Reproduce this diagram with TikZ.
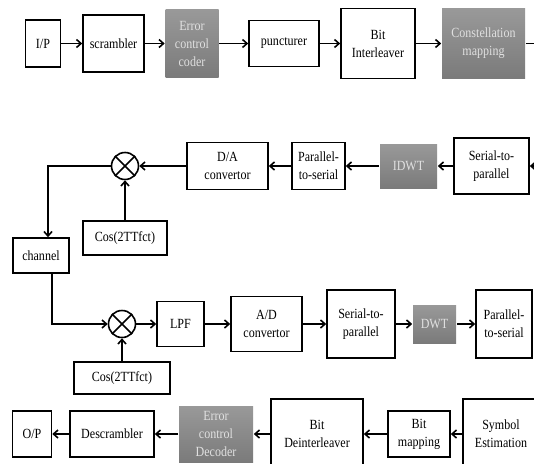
\documentclass[tikz,border=0pt]{standalone}
\usepackage{fontspec}
\setmainfont{Liberation Serif}[FakeStretch=0.86]
\usetikzlibrary{arrows.meta}

\tikzset{
  blk/.style={draw, line width=1.6pt, fill=white, align=center, inner sep=1pt,
    font=\fontsize{14}{18}\selectfont},
  gblk/.style={blk, draw=none, top color=black!40, bottom color=black!52,
    text=white!88!black},
  wh/.style 2 args={minimum width=#1pt, minimum height=#2pt},
  mix/.style={draw, circle, line width=1.6pt, minimum size=27pt, inner sep=0pt},
  arr/.style={line width=1.6pt, -{Straight Barb[length=4.5pt,width=8pt]}},
}

\begin{document}
\begin{tikzpicture}[x=1pt, y=-1pt]
      \useasboundingbox (0,0) rectangle (534,463);
      \clip (0,0) rectangle (534,463);

      % transmitter, first row
      \node[blk, wh={35}{47}] (ip) at (43,43.5) {I/P};
      \node[blk, wh={61}{57}] (scr) at (113.5,43.5) {scrambler};
      \node[gblk, wh={53}{68}] (ecc) at (192,43.5) {Error\\control\\coder};
      \node[blk, wh={70}{46}] (punc) at (284,43.5) {puncturer};
      \node[blk, wh={74}{70}] (bint) at (378,43.5) {Bit\\Interleaver};
      \node[gblk, wh={83}{70}] (cmap) at (483.5,43.5) {Constellation\\mapping};
      \coordinate (out1) at (548,43.5);

      \draw[arr] (ip) -- (scr);
      \draw[arr] (scr) -- (ecc);
      \draw[arr] (ecc) -- (punc);
      \draw[arr] (punc) -- (bint);
      \draw[arr] (bint) -- (cmap);
      \draw[arr] (cmap) -- (out1);

      % transmitter, second row (right to left)
      \coordinate (in2) at (548,166);
      \node[blk, wh={75}{56}] (sp1) at (491.5,166) {Serial-to-\\parallel};
      \node[gblk, wh={57}{44}] (idwt) at (408.5,166) {IDWT};
      \node[blk, wh={53}{47}] (ps1) at (318.5,166) {Parallel-\\to-serial};
      \node[blk, wh={81}{47}] (da) at (227.5,166) {D/A\\convertor};
      \node[mix] (mix1) at (125,166) {};
      \draw[line width=1.6pt] (mix1.north west) -- (mix1.south east)
        (mix1.north east) -- (mix1.south west);
      \node[blk, wh={84}{34}] (cos1) at (125,238) {Cos(2TTfct)};

      \draw[arr] (in2) -- (sp1);
      \draw[arr] (sp1) -- (idwt);
      \draw[arr] (idwt) -- (ps1);
      \draw[arr] (ps1) -- (da);
      \draw[arr] (da) -- (mix1);
      \draw[arr] (cos1) -- (mix1);

      % channel
      \node[blk, wh={56}{35}] (chan) at (41,255.5) {channel};
      \draw[arr] (mix1.west) -| ([xshift=7pt]chan.north);

      % receiver, third row
      \node[mix] (mix2) at (122,324) {};
      \draw[line width=1.6pt] (mix2.north west) -- (mix2.south east)
        (mix2.north east) -- (mix2.south west);
      \node[blk, wh={96}{32}] (cos2) at (122,378) {Cos(2TTfct)};
      \node[blk, wh={47}{45}] (lpf) at (180.5,324) {LPF};
      \node[blk, wh={71}{55}] (ad) at (266.5,324) {A/D\\convertor};
      \node[blk, wh={68}{68}] (sp2) at (361,324) {Serial-to-\\parallel};
      \node[gblk, wh={43}{38}] (dwt) at (434.5,324) {DWT};
      \node[blk, wh={56}{68}] (ps2) at (504,324) {Parallel-\\to-serial};

      \draw[arr] ([xshift=11pt]chan.south) |- (mix2.west);
      \draw[arr] (cos2) -- (mix2);
      \draw[arr] (mix2) -- (lpf);
      \draw[arr] (lpf) -- (ad);
      \draw[arr] (ad) -- (sp2);
      \draw[arr] (sp2) -- (dwt);
      \draw[arr] (dwt) -- (ps2);

      % receiver, last row (right to left)
      \node[blk, wh={76}{70}] (sym) at (501,434) {Symbol\\Estimation};
      \node[blk, wh={62}{46}] (bmap) at (419,434) {Bit\\mapping};
      \node[blk, wh={92}{70}] (bdint) at (317,434) {Bit\\Deinterleaver};
      \node[gblk, wh={74}{56}] (ecd) at (216,434) {Error\\control\\Decoder};
      \node[blk, wh={84}{46}] (desc) at (112,434) {Descrambler};
      \node[blk, wh={39}{46}] (op) at (32,434) {O/P};

      \draw[arr] (sym) -- (bmap);
      \draw[arr] (bmap) -- (bdint);
      \draw[arr] (bdint) -- (ecd);
      \draw[arr] (ecd) -- (desc);
      \draw[arr] (desc) -- (op);

\end{tikzpicture}
\end{document}
